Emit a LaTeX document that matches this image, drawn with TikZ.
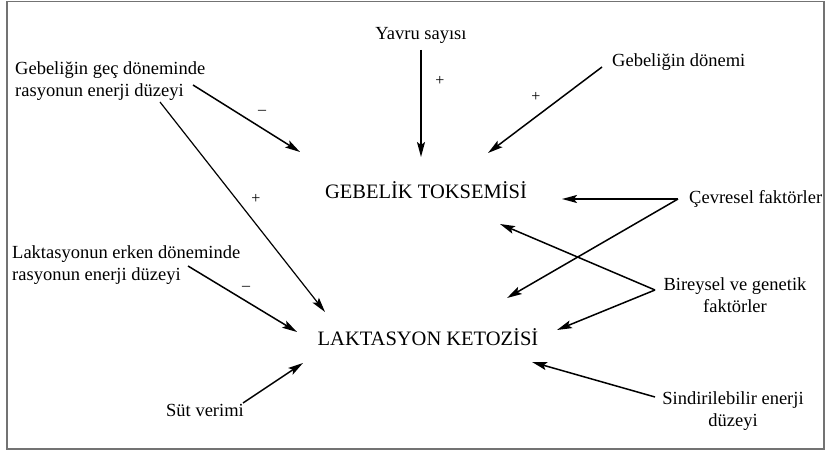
\documentclass[tikz,border=0pt]{standalone}
\usepackage{fontspec}
\setmainfont{Liberation Serif}
\usetikzlibrary{arrows.meta}
\begin{document}
\begin{tikzpicture}[x=1pt,y=-1pt,
  lbl/.style={inner sep=0pt, font=\fontsize{18.5}{22}\selectfont},
  hdr/.style={inner sep=0pt, font=\fontsize{20.5}{24}\selectfont},
  sgn/.style={inner sep=0pt, font=\fontsize{16}{18}\selectfont},
  arr/.style={line width=1.5pt, -{Stealth[length=15pt,width=8pt,inset=3pt]}},
  thinarr/.style={line width=1.2pt, -{Stealth[length=15pt,width=8pt,inset=3pt]}},
]
\useasboundingbox (0,0) rectangle (830,454);
\draw[line width=1.2pt, black!55] (7,1.5) rectangle (824,449);
% nodes
\node[lbl] (yavru) at (421,35) {Yavru sayısı};
\node[lbl, anchor=west] (gdon) at (612,62) {Gebeliğin dönemi};
\node[lbl, anchor=west, align=left] (gec) at (15,81) {Gebeliğin geç döneminde\\rasyonun enerji düzeyi};
\node[hdr] (tok) at (426,190) {GEBELİK TOKSEMİSİ};
\node[lbl, anchor=west] (cev) at (689,199) {Çevresel faktörler};
\node[lbl, anchor=west, align=left] (erk) at (12,265) {Laktasyonun erken döneminde\\rasyonun enerji düzeyi};
\node[lbl, align=center] (bir) at (735,295) {Bireysel ve genetik\\faktörler};
\node[hdr] (ket) at (428,337) {LAKTASYON KETOZİSİ};
\node[lbl] (sut) at (205,410) {Süt verimi};
\node[lbl, align=center] (sin) at (733,411) {Sindirilebilir enerji\\düzeyi};
% connector end points
\coordinate (yS) at (421,50);   \coordinate (yE) at (421,157);
\coordinate (dS) at (602,67);   \coordinate (dE) at (488,153);
\coordinate (g1S) at (193,85);  \coordinate (g1E) at (300,152);
\coordinate (g2S) at (160,102); \coordinate (g2E) at (325,312);
\coordinate (eS) at (188,266);  \coordinate (eE) at (297,332);
\coordinate (sS) at (243,403);  \coordinate (sE) at (303,363);
\coordinate (cS) at (678,199);  \coordinate (cE1) at (562,199); \coordinate (cE2) at (507,298);
\coordinate (bS) at (655,290);  \coordinate (bE1) at (500,224); \coordinate (bE2) at (557,330);
\coordinate (nS) at (655,397);  \coordinate (nE) at (532,362);
% connectors
\draw[arr] (yS) -- (yE);
\draw[arr] (dS) -- (dE);
\draw[arr] (g1S) -- (g1E);
\draw[thinarr] (g2S) -- (g2E);
\draw[arr] (eS) -- (eE);
\draw[arr] (sS) -- (sE);
\draw[arr] (cS) -- (cE1);
\draw[arr] (cS) -- (cE2);
\draw[arr] (bS) -- (bE1);
\draw[arr] (bS) -- (bE2);
\draw[arr] (nS) -- (nE);
% signs
\node[sgn] (p1) at (440,81) {+};
\node[sgn] (p2) at (536,97) {+};
\node[sgn] (m1) at (262,112) {–};
\node[sgn] (p3) at (256,199) {+};
\node[sgn] (m2) at (246,288) {–};
\end{tikzpicture}
\end{document}
